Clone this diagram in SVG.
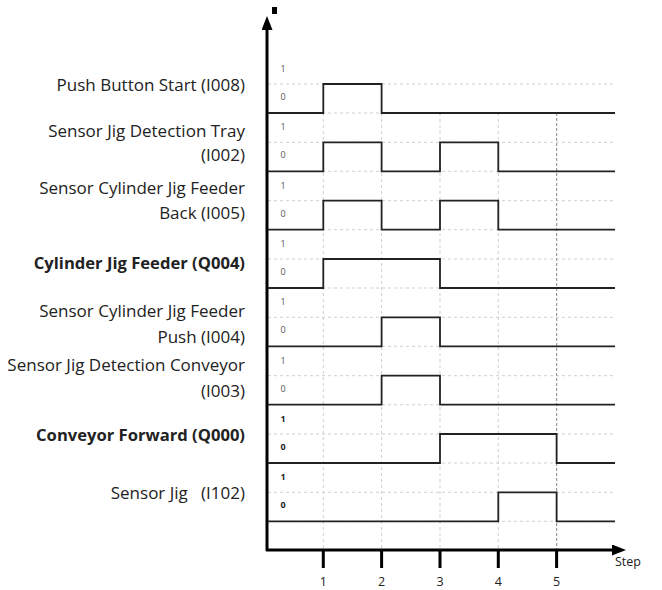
<svg xmlns="http://www.w3.org/2000/svg" width="662" height="590" viewBox="0 0 662 590">
  <style>
    .lbl { font-family: "Open Sans", "Liberation Sans", sans-serif; font-size: 17px; fill: #222; text-anchor: end; }
    .bold { font-weight: bold; font-size: 16.6px; }
    .lvl { font-family: "Open Sans", "Liberation Sans", sans-serif; font-size: 9px; fill: #555; text-anchor: middle; }
    .lvl.dark { fill: #222; font-weight: bold; }
    .tick { font-family: "Open Sans", "Liberation Sans", sans-serif; font-size: 12.5px; fill: #222; text-anchor: middle; }
    .grid { stroke: #cfcfcf; stroke-width: 1; stroke-dasharray: 3 3; fill: none; }
    .grid5 { stroke: #999; stroke-width: 1.2; stroke-dasharray: 3 2; fill: none; }
    .sig { stroke: #222; stroke-width: 1.8; fill: none; }
    .axis { stroke: #000; stroke-width: 3; fill: none; }
  </style>
  <defs>
    <marker id="arrow" markerWidth="14" markerHeight="11" refX="1" refY="5.5" orient="auto" markerUnits="userSpaceOnUse">
      <path d="M0,0 L14,5.5 L0,11 z" fill="#000"/>
    </marker>
  </defs>
  <rect width="662" height="590" fill="#fff"/>

  <!-- grid: level lines for each signal row -->
  <g id="grid">
    <path class="grid" d="M268,84H615 M268,113H615 M268,142.3H615 M268,171.3H615 M268,200.7H615 M268,229.7H615 M268,259H615 M268,288H615 M268,317.3H615 M268,346.3H615 M268,375.7H615 M268,404.7H615 M268,434H615 M268,463H615 M268,492.3H615 M268,521.3H615"/>
    <path class="grid" d="M323.3,113V550 M381.6,113V550 M440,113V550 M498.3,113V550"/>
    <path class="grid5" d="M556.6,113V550"/>
  </g>

  <!-- axes -->
  <g id="axes">
    <path class="axis" d="M267,551V29" marker-end="url(#arrow)"/>
    <path class="axis" d="M266,550H613" marker-end="url(#arrow)"/>
    <rect x="272" y="7" width="5" height="7" fill="#000"/>
    <path class="axis" d="M323.3,550V568 M381.6,550V568 M440,550V568 M498.3,550V568 M556.6,550V568"/>
    <text class="tick" x="323.3" y="586">1</text>
    <text class="tick" x="381.6" y="586">2</text>
    <text class="tick" x="440" y="586">3</text>
    <text class="tick" x="498.3" y="586">4</text>
    <text class="tick" x="556.6" y="586">5</text>
    <text class="tick" x="628" y="566" text-anchor="start">Step</text>
  </g>

  <!-- signal waveforms -->
  <g id="connectors">
    <path class="sig" d="M268,113H323.3V84H381.6V113H615"/>
    <path class="sig" d="M268,171.3H323.3V142.3H381.6V171.3H440V142.3H498.3V171.3H615"/>
    <path class="sig" d="M268,229.7H323.3V200.7H381.6V229.7H440V200.7H498.3V229.7H615"/>
    <path class="sig" d="M268,288H323.3V259H440V288H615"/>
    <path class="sig" d="M268,346.3H381.6V317.3H440V346.3H615"/>
    <path class="sig" d="M268,404.7H381.6V375.7H440V404.7H615"/>
    <path class="sig" d="M268,463H440V434H556.6V463H615"/>
    <path class="sig" d="M268,521.3H498.3V492.3H556.6V521.3H615"/>
  </g>

  <g id="row-i008">
    <text class="lbl" x="245" y="91">Push Button Start (I008)</text>
    <text class="lvl" x="283" y="72">1</text>
    <text class="lvl" x="283" y="100">0</text>
  </g>
  <g id="row-i002">
    <text class="lbl" x="245" y="136.5">Sensor Jig Detection Tray</text>
    <text class="lbl" x="245" y="161">(I002)</text>
    <text class="lvl" x="283" y="130.3">1</text>
    <text class="lvl" x="283" y="158.3">0</text>
  </g>
  <g id="row-i005">
    <text class="lbl" x="245" y="194">Sensor Cylinder Jig Feeder</text>
    <text class="lbl" x="245" y="218.5">Back (I005)</text>
    <text class="lvl" x="283" y="188.7">1</text>
    <text class="lvl" x="283" y="216.7">0</text>
  </g>
  <g id="row-q004">
    <text class="lbl bold" x="245" y="268.5">Cylinder Jig Feeder (Q004)</text>
    <text class="lvl" x="283" y="247">1</text>
    <text class="lvl" x="283" y="275">0</text>
  </g>
  <g id="row-i004">
    <text class="lbl" x="245" y="317">Sensor Cylinder Jig Feeder</text>
    <text class="lbl" x="245" y="342.5">Push (I004)</text>
    <text class="lvl" x="283" y="305.3">1</text>
    <text class="lvl" x="283" y="333.3">0</text>
  </g>
  <g id="row-i003">
    <text class="lbl" x="245" y="371">Sensor Jig Detection Conveyor</text>
    <text class="lbl" x="245" y="397">(I003)</text>
    <text class="lvl" x="283" y="363.7">1</text>
    <text class="lvl" x="283" y="391.7">0</text>
  </g>
  <g id="row-q000">
    <text class="lbl bold" x="245" y="441">Conveyor Forward (Q000)</text>
    <text class="lvl dark" x="283" y="422">1</text>
    <text class="lvl dark" x="283" y="450">0</text>
  </g>
  <g id="row-i102">
    <text class="lbl" x="245" y="499" xml:space="preserve">Sensor Jig   (I102)</text>
    <text class="lvl dark" x="283" y="480.3">1</text>
    <text class="lvl dark" x="283" y="508.3">0</text>
  </g>
</svg>
